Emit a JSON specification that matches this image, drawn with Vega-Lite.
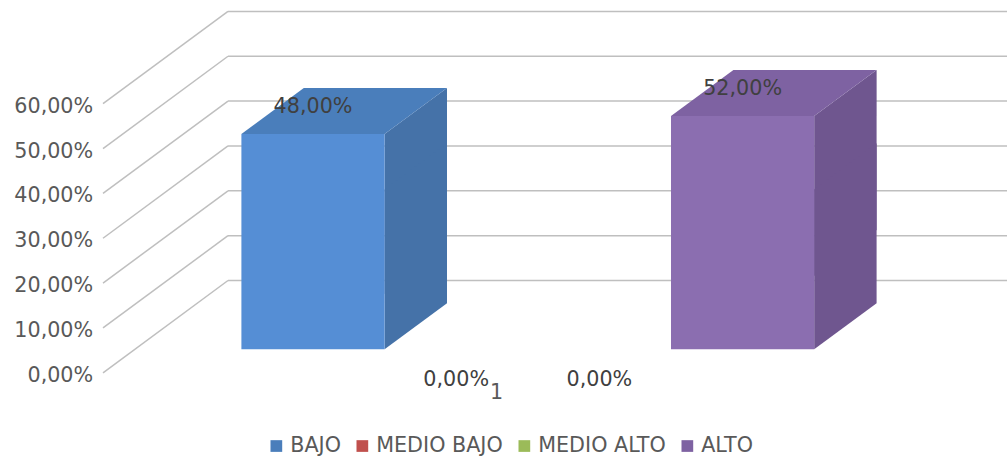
{
  "$schema": "https://vega.github.io/schema/vega-lite/v6.json",
  "width": 779,
  "height": 269.1,
  "autosize": {"type": "none"},
  "padding": {"left": 228, "top": 80.2, "right": 0, "bottom": 114.7},
  "background": "white",
  "datasets": {
    "niveles": [
      {"serie": "BAJO", "grupo": "1", "valor": 0.48},
      {"serie": "MEDIO BAJO", "grupo": "1", "valor": 0},
      {"serie": "MEDIO ALTO", "grupo": "1", "valor": 0},
      {"serie": "ALTO", "grupo": "1", "valor": 0.52}
    ],
    "marcas": [
      {"valor": 0}, {"valor": 0.1}, {"valor": 0.2}, {"valor": 0.3},
      {"valor": 0.4}, {"valor": 0.5}, {"valor": 0.6}
    ]
  },
  "config": {
    "font": "DejaVu Sans",
    "view": {"stroke": null},
    "locale": {"number": {"decimal": ",", "thousands": ".", "grouping": [3], "currency": ["", " €"]}},
    "axisY": {
      "title": null, "format": ".2%", "tickCount": 6, "grid": false, "domain": false,
      "ticks": false, "tickSize": 0, "offset": 125, "labelPadding": 10.3, "labelOffset": 26,
      "labelFontSize": 20.7, "labelColor": "#595959", "labelFont": "DejaVu Sans"
    }
  },
  "encoding": {
    "y": {
      "field": "valor", "type": "quantitative",
      "scale": {"domain": [0, 0.6], "nice": false},
      "axis": {
        "title": null, "format": ".2%", "tickCount": 6, "grid": false, "domain": false,
        "ticks": false, "tickSize": 0, "offset": 125, "labelPadding": 10.3, "labelOffset": 26,
        "labelFontSize": 20.7, "labelColor": "#595959", "labelFont": "DejaVu Sans"
      }
    }
  },
  "layer": [
    {
      "data": {"name": "marcas"},
      "layer": [
        {
          "mark": {"type": "rule", "color": "#bfbfbf", "strokeWidth": 1.5, "yOffset": -68.8, "y2Offset": -68.8},
          "encoding": {}
        },
        {
          "mark": {"type": "rule", "color": "#bfbfbf", "strokeWidth": 1.5, "xOffset": -125, "x2Offset": 0, "yOffset": 23.5, "y2Offset": -68.8},
          "encoding": {
            "x": {"datum": 0, "type": "quantitative", "scale": {"domain": [0, 1]}, "axis": null},
            "x2": {"datum": 0},
            "y2": {"field": "valor"}
          }
        }
      ]
    },
    {
      "data": {"name": "niveles"},
      "transform": [{"filter": "datum.valor > 0"}],
      "encoding": {
        "x": {
          "field": "serie", "type": "nominal",
          "scale": {"type": "band", "domain": ["BAJO", "MEDIO BAJO", "MEDIO ALTO", "ALTO"], "paddingInner": 0, "paddingOuter": 0.72, "align": 0.065},
          "axis": null
        },
        "fill": {
          "field": "serie", "type": "nominal",
          "scale": {"domain": ["BAJO", "MEDIO BAJO", "MEDIO ALTO", "ALTO"], "range": ["#4572a8", "#a0403d", "#81a049", "#6f568f"]},
          "legend": null
        }
      },
      "layer": [
        {
          "mark": {"type": "point", "shape": "M 71.6 0 L 134 -46 L 134 114 L 71.6 160 Z", "size": 4, "filled": true, "opacity": 1, "strokeWidth": 0},
          "encoding": {}
        },
        {
          "mark": {"type": "point", "shape": "M 71.6 0 L 71.6 -160 L 134 -206 L 134 -46 Z", "size": 4, "filled": true, "opacity": 1, "strokeWidth": 0},
          "encoding": {
            "y": {
              "datum": 0, "type": "quantitative",
              "axis": {
                "title": null, "format": ".2%", "tickCount": 6, "grid": false, "domain": false,
                "ticks": false, "tickSize": 0, "offset": 125, "labelPadding": 10.3, "labelOffset": 26,
                "labelFontSize": 20.7, "labelColor": "#595959", "labelFont": "DejaVu Sans"
              }
            }
          }
        }
      ]
    },
    {
      "data": {"name": "niveles"},
      "encoding": {
        "x": {
          "field": "serie", "type": "nominal",
          "scale": {"type": "band", "domain": ["BAJO", "MEDIO BAJO", "MEDIO ALTO", "ALTO"], "paddingInner": 0, "paddingOuter": 0.72, "align": 0.065},
          "axis": {
            "title": "1", "labels": false, "ticks": false, "domain": false, "grid": false,
            "titleFontSize": 20.7, "titleFontWeight": "normal", "titleColor": "#595959", "titleFont": "DejaVu Sans",
            "titleX": 268, "titleY": 42.7, "titleBaseline": "middle", "titleAlign": "center"
          }
        }
      },
      "layer": [
        {
          "transform": [{"filter": "datum.valor > 0"}],
          "mark": {"type": "point", "shape": "M -71.6 0 L 71.6 0 L 134 -46 L -9.2 -46 Z", "size": 4, "filled": true, "opacity": 1, "strokeWidth": 0},
          "encoding": {
            "color": {
              "field": "serie", "type": "nominal",
              "scale": {"domain": ["BAJO", "MEDIO BAJO", "MEDIO ALTO", "ALTO"], "range": ["#4a7ebb", "#c0504d", "#9bbb59", "#7e62a2"]},
              "legend": {
                "orient": "none", "legendX": 38, "legendY": 355, "direction": "horizontal", "title": null,
                "symbolType": "square", "symbolSize": 137, "symbolStrokeWidth": 0, "symbolOpacity": 1,
                "labelFontSize": 20.7, "labelColor": "#595959", "labelFont": "DejaVu Sans",
                "labelOffset": 3.5, "columnPadding": 11, "padding": 0, "labelLimit": 300
              }
            }
          }
        },
        {
          "mark": {"type": "bar"},
          "encoding": {
            "fill": {
              "field": "serie", "type": "nominal",
              "scale": {"domain": ["BAJO", "MEDIO BAJO", "MEDIO ALTO", "ALTO"], "range": ["#558ed5", "#c0504d", "#9bbb59", "#8b6eb0"]},
              "legend": null
            }
          }
        },
        {
          "transform": [{"filter": "datum.valor > 0"}],
          "mark": {"type": "text", "dy": -27.5, "fontSize": 20.7, "color": "#404040", "baseline": "middle", "font": "DejaVu Sans"},
          "encoding": {"text": {"field": "valor", "type": "quantitative", "format": ".2%"}}
        },
        {
          "transform": [{"filter": "datum.valor == 0"}],
          "mark": {"type": "text", "dy": 30.2, "fontSize": 20.7, "color": "#404040", "baseline": "middle", "font": "DejaVu Sans"},
          "encoding": {"text": {"field": "valor", "type": "quantitative", "format": ".2%"}}
        }
      ]
    }
  ],
  "resolve": {"scale": {"x": "independent", "fill": "independent"}}
}
